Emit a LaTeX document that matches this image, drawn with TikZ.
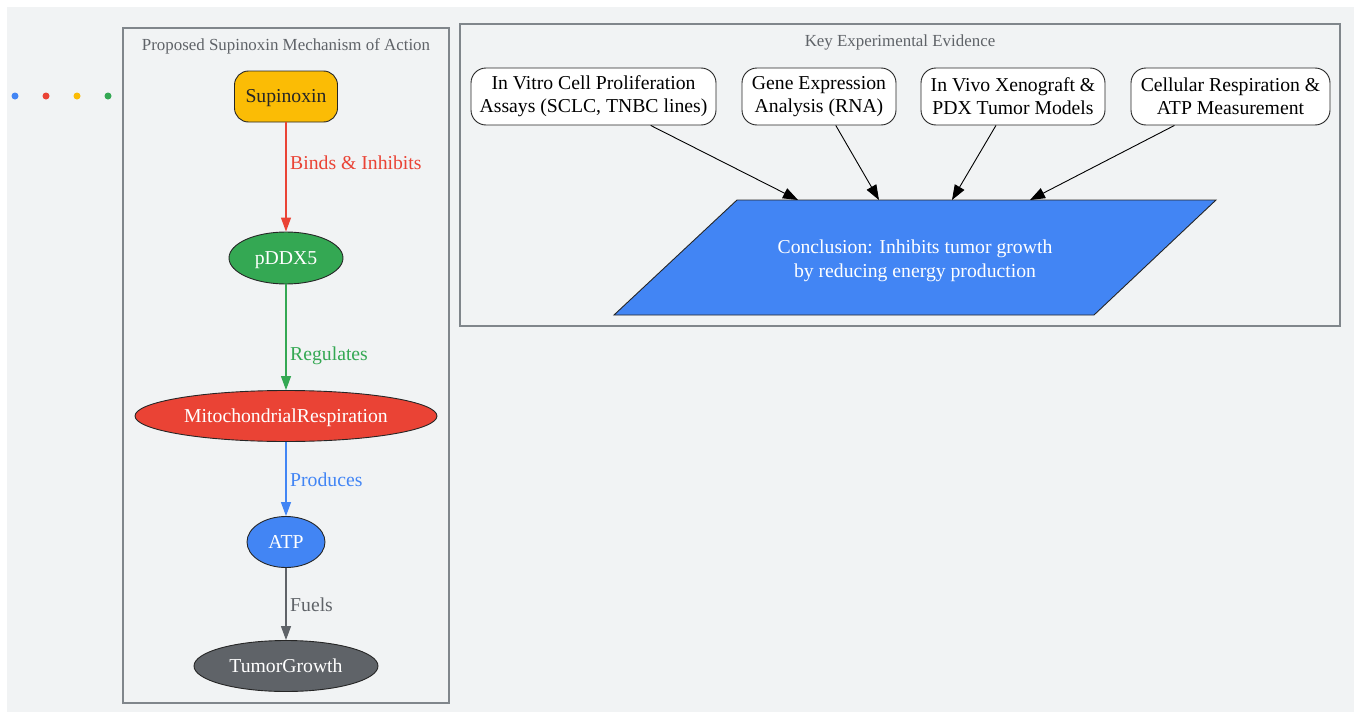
\documentclass[tikz,border=0pt]{standalone}
\usepackage{fontspec}
\setmainfont{Liberation Serif}
\usetikzlibrary{arrows.meta,shapes.geometric}
\definecolor{gblue}{HTML}{4285F4}
\definecolor{gred}{HTML}{EA4335}
\definecolor{gyellow}{HTML}{FBBC05}
\definecolor{ggreen}{HTML}{34A853}
\definecolor{ggray}{HTML}{5F6368}
\definecolor{bgc}{HTML}{F1F3F4}
\definecolor{framec}{HTML}{80868B}
\begin{document}
\begin{tikzpicture}[x=1pt,y=1pt,yscale=-1,
    cluster/.style={draw=framec,line width=1.2pt},
    ctitle/.style={text=ggray,font=\fontsize{16.9}{19}\selectfont,inner sep=0pt,text height=12pt,text depth=2pt},
    ell/.style={ellipse,draw=black!85,line width=0.9pt,inner sep=0pt,text=white,font=\fontsize{19.7}{22}\selectfont,text height=14pt,text depth=2pt},
    evbox/.style={draw=black!85,line width=0.9pt,fill=white,rounded corners=15pt,align=center,inner sep=0pt,minimum height=57pt,font=\fontsize{19.7}{23}\selectfont},
    elab/.style={anchor=west,inner sep=0pt,font=\fontsize{19.7}{22}\selectfont,text height=14pt,text depth=2pt},
    link/.style={line width=1.2pt,-{Triangle[length=14pt,width=10pt]}},
    evlink/.style={draw=black,line width=0.9pt,-{Triangle[length=15pt,width=11pt]}}]
\useasboundingbox (0,0) rectangle (1361,712);
\fill[bgc] (7,7) rectangle (1354,712);
\fill[gblue] (15,96) circle (3.5);
\fill[gred] (46,96) circle (3.5);
\fill[gyellow] (77,96) circle (3.5);
\fill[ggreen] (108,96) circle (3.5);
\draw[cluster] (123,28) rectangle (449,703);
\node[ctitle] (mtitle) at (286,45) {Proposed Supinoxin Mechanism of Action};
\node[draw=black!85,line width=0.9pt,fill=gyellow,rounded corners=14pt,minimum width=103pt,minimum height=51pt,inner sep=0pt,text=black!85,font=\fontsize{19.7}{22}\selectfont,text height=14pt,text depth=2pt] (sup) at (286,96.5) {Supinoxin};
\node[ell,fill=ggreen,minimum width=114pt,minimum height=52pt] (pddx) at (286,258) {pDDX5};
\node[ell,fill=gred,minimum width=302pt,minimum height=51pt] (mito) at (286,416) {MitochondrialRespiration};
\node[ell,fill=gblue,minimum width=78pt,minimum height=51pt] (atp) at (286,542) {ATP};
\node[ell,fill=ggray,minimum width=184pt,minimum height=51pt] (tumor) at (286,666) {TumorGrowth};
\draw[link,gred] (sup) -- (pddx);
\draw[link,ggreen] (pddx) -- (mito);
\draw[link,gblue] (mito) -- (atp);
\draw[link,ggray] (atp) -- (tumor);
\node[elab,text=gred] (l1) at (290,163) {Binds \& Inhibits};
\node[elab,text=ggreen] (l2) at (290,354) {Regulates};
\node[elab,text=gblue] (l3) at (290,480) {Produces};
\node[elab,text=ggray] (l4) at (290,605) {Fuels};
\draw[cluster] (460,24) rectangle (1340,326);
\node[ctitle] (etitle) at (900,41) {Key Experimental Evidence};
\node[evbox,minimum width=245pt] (ev1) at (593.5,96.5) {In Vitro Cell Proliferation\\Assays (SCLC, TNBC lines)};
\node[evbox,minimum width=154pt] (ev2) at (819,96.5) {Gene Expression\\Analysis (RNA)};
\node[evbox,minimum width=184pt] (ev3) at (1013,96.5) {In Vivo Xenograft \&\\PDX Tumor Models};
\node[evbox,minimum width=199pt] (ev4) at (1230.5,96.5) {Cellular Respiration \&\\ATP Measurement};
\draw[draw=black!85,line width=0.9pt,fill=gblue] (737,200) -- (1216,200) -- (1094,315) -- (614,315) -- cycle;
\node[align=center,text=white,inner sep=0pt,font=\fontsize{19.7}{24}\selectfont] (concl) at (915,261) {Conclusion: Inhibits tumor growth\\by reducing energy production};
\coordinate (c1) at (798,200);
\coordinate (c2) at (879,200);
\coordinate (c3) at (952,200);
\coordinate (c4) at (1030,200);
\draw[evlink] (ev1) -- (c1);
\draw[evlink] (ev2) -- (c2);
\draw[evlink] (ev3) -- (c3);
\draw[evlink] (ev4) -- (c4);
\end{tikzpicture}
\end{document}
